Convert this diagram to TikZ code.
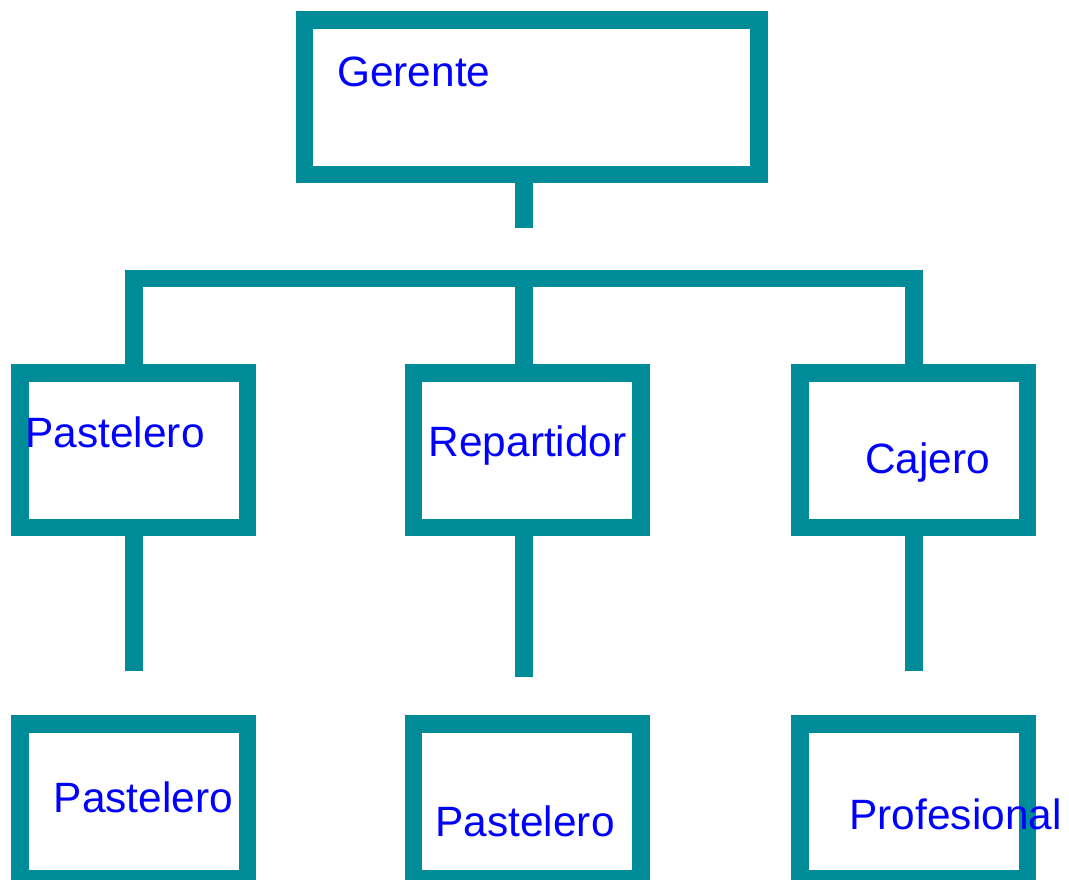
\documentclass[tikz,border=0pt]{standalone}
\usepackage{fontspec}
\setmainfont{Liberation Sans}
\definecolor{orgteal}{RGB}{0,139,153}
\definecolor{orgblue}{RGB}{0,0,255}
\begin{document}
\begin{tikzpicture}[x=1pt,y=-1pt,
    box/.style={rectangle,draw=orgteal,line width=17.5pt,inner sep=0pt,
                minimum width=227.5pt,minimum height=154.5pt},
    link/.style={draw=orgteal,line width=17.5pt,line join=miter},
    role/.style={text=orgblue,inner sep=0pt,anchor=base west,
                 font=\fontsize{42.4}{50}\selectfont}]
        \useasboundingbox (0,0) rectangle (1069,879);

        % draw the boxes
        \node[box,minimum width=454.5pt] (ger) at (531.5,97) {};
        \node[box] (pas) at (133.8,450.2) {};
        \node[box] (rep) at (527,450.2) {};
        \node[box] (caj) at (913.8,450.2) {};
        \node[box] (pasb) at (133.8,801.4) {};
        \node[box] (repb) at (527,801.4) {};
        \node[box] (cajb) at (913.8,801.4) {};

        % draw the connectors
        \coordinate (hub) at (524,278.7);
        \coordinate (gerend) at (524,227.7);
        \coordinate (pasend) at (133.8,671.2);
        \coordinate (repend) at (524,676.5);
        \coordinate (cajend) at (913.8,671.4);
        \draw[link] (ger.south -| hub) -- (gerend);
        \draw[link] (pas.north) |- (hub) -| (caj.north);
        \draw[link] (hub) -- (rep.north -| hub);
        \draw[link] (pas.south) -- (pasend);
        \draw[link] (rep.south -| repend) -- (repend);
        \draw[link] (caj.south) -- (cajend);

        % draw the texts
        \node[role] (tger) at (337,86.7) {Gerente};
        \node[role] (tpas) at (25.3,447.2) {Pastelero};
        \node[role] (trep) at (428.5,456.2) {Repartidor};
        \node[role] (tcaj) at (865,473.2) {Cajero};
        \node[role] (tpasb) at (53.6,812.2) {Pastelero};
        \node[role] (trepb) at (435.3,836.4) {Pastelero};
        \node[role] (tcajb) at (849.3,829.7) {Profesional};
\end{tikzpicture}
\end{document}
